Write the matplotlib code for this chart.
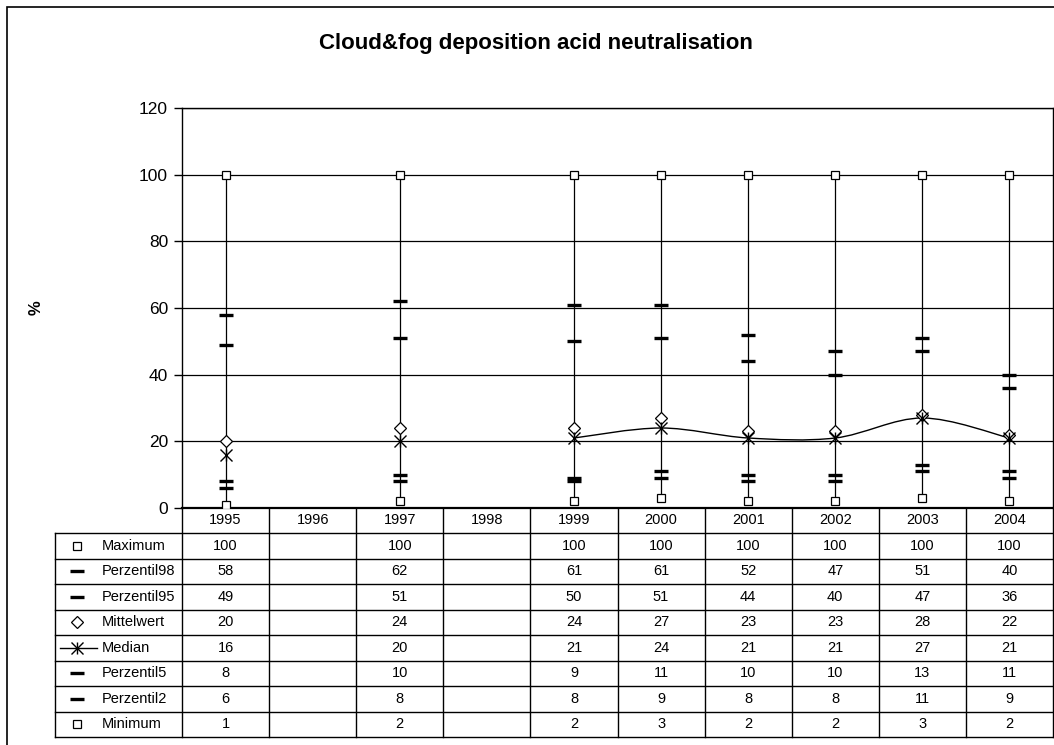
import numpy as np
import matplotlib.pyplot as plt
import matplotlib.transforms as mtransforms
from matplotlib.lines import Line2D
from matplotlib.path import Path
from matplotlib.patches import PathPatch, Rectangle

plt.rcParams['font.family'] = ['Liberation Sans', 'DejaVu Sans']

nan = np.nan
years = ['1995', '1996', '1997', '1998', '1999', '2000', '2001', '2002', '2003', '2004']
maximum = [100, nan, 100, nan, 100, 100, 100, 100, 100, 100]
p98 = [58, nan, 62, nan, 61, 61, 52, 47, 51, 40]
p95 = [49, nan, 51, nan, 50, 51, 44, 40, 47, 36]
mittel = [20, nan, 24, nan, 24, 27, 23, 23, 28, 22]
median = [16, nan, 20, nan, 21, 24, 21, 21, 27, 21]
p5 = [8, nan, 10, nan, 9, 11, 10, 10, 13, 11]
p2 = [6, nan, 8, nan, 8, 9, 8, 8, 11, 9]
minimum = [1, nan, 2, nan, 2, 3, 2, 2, 3, 2]

W, H = 1054, 745
fig = plt.figure(figsize=(W / 100, H / 100), dpi=100)

def fx(px):
    return px / W

def fy(py):
    return 1 - py / H

ax_left, ax_right, ax_top, ax_bot = 182, 1053, 108, 508
ax = fig.add_axes([fx(ax_left), fy(ax_bot), fx(ax_right - ax_left), (ax_bot - ax_top) / H])

x = np.arange(len(years))

# outer chart border (only left/top visible in the picture)
fig.add_artist(Rectangle((fx(7), fy(1000)), 2, fy(7) - fy(1000), transform=fig.transFigure,
                         fill=False, edgecolor='black', lw=1.2))

# high-low lines
for xi, lo, hi in zip(x, minimum, maximum):
    if not np.isnan(lo):
        ax.plot([xi, xi], [lo, hi], color='black', lw=0.9, zorder=2)

sq = dict(ls='none', marker='s', ms=6, mfc='white', mec='black', mew=0.9, zorder=4)
dash = dict(ls='none', marker='_', ms=10, mec='black', mew=2.4, zorder=4)
ax.plot(x, maximum, **sq)
ax.plot(x, minimum, **sq)
for s in (p98, p95, p5, p2):
    ax.plot(x, s, **dash)
ax.plot(x, mittel, ls='none', marker='D', ms=6, mfc='white', mec='black', mew=0.9, zorder=5)

# smoothed median line through consecutive runs
med = np.array(median, dtype=float)
runs, cur = [], []
for i, v in enumerate(med):
    if np.isnan(v):
        if cur:
            runs.append(cur)
        cur = []
    else:
        cur.append(i)
if cur:
    runs.append(cur)
for r in runs:
    if len(r) < 2:
        continue
    pts = [(float(i), med[i]) for i in r]
    verts = [pts[0]]
    codes = [Path.MOVETO]
    n = len(pts)
    for k in range(n - 1):
        p0 = np.array(pts[max(k - 1, 0)])
        p1 = np.array(pts[k])
        p2_ = np.array(pts[k + 1])
        p3 = np.array(pts[min(k + 2, n - 1)])
        c1 = p1 + (p2_ - p0) / 6
        c2 = p2_ - (p3 - p1) / 6
        verts += [tuple(c1), tuple(c2), tuple(p2_)]
        codes += [Path.CURVE4] * 3
    ax.add_patch(PathPatch(Path(verts, codes), fill=False, edgecolor='black', lw=1.0, zorder=3))
ax.plot(x, median, ls='none', marker='x', ms=9, mec='black', mew=1.0, zorder=5)
ax.plot(x, median, ls='none', marker='|', ms=9, mec='black', mew=1.0, zorder=5)

ax.set_xlim(-0.5, len(years) - 0.5)
ax.set_ylim(0, 120)
ax.set_yticks(range(0, 121, 20))
ax.yaxis.grid(True, color='black', lw=0.9)
ax.set_axisbelow(True)
ax.set_xticks([])
ax.tick_params(axis='y', direction='out', length=6, width=1, labelsize=12.5, pad=4)
for sp in ax.spines.values():
    sp.set_linewidth(1.0)
ax.spines['bottom'].set_linewidth(1.6)

fig.text(fx(536), fy(44), 'Cloud&fog deposition acid neutralisation', ha='center', va='center',
         fontsize=16, fontweight='bold')
fig.text(fx(36), fy(308), '%', rotation=90, ha='center', va='center', fontsize=12, fontweight='bold')

# data table below the axis
blend = mtransforms.blended_transform_factory(ax.transData, fig.transFigure)
header_top, header_bot = 508, 533
row_h = 25.5
rows = [('Maximum', maximum), ('Perzentil98', p98), ('Perzentil95', p95), ('Mittelwert', mittel),
        ('Median', median), ('Perzentil5', p5), ('Perzentil2', p2), ('Minimum', minimum)]
table_bot = header_bot + row_h * len(rows)

for i in range(len(years) + 1):
    fig.add_artist(Line2D([i - 0.5, i - 0.5], [fy(header_top), fy(table_bot)], transform=blend,
                          color='black', lw=1.0))
fig.add_artist(Line2D([fx(55), fx(55)], [fy(header_bot), fy(table_bot)], transform=fig.transFigure,
                      color='black', lw=1.0))
for r in range(len(rows) + 1):
    yy = fy(header_bot + r * row_h)
    fig.add_artist(Line2D([fx(55), fx(ax_right)], [yy, yy], transform=fig.transFigure, color='black', lw=1.0))

for i, yr in enumerate(years):
    fig.text(i, fy((header_top + header_bot) / 2), yr, transform=blend, ha='center', va='center', fontsize=10.5)

sym_x = fx(77)
for r, (name, vals) in enumerate(rows):
    yc = fy(header_bot + (r + 0.5) * row_h)
    fig.text(fx(102), yc, name, ha='left', va='center', fontsize=10.5)
    if name in ('Maximum', 'Minimum'):
        fig.add_artist(Line2D([sym_x], [yc], transform=fig.transFigure, ls='none', marker='s', ms=6,
                              mfc='white', mec='black', mew=0.9))
    elif name == 'Mittelwert':
        fig.add_artist(Line2D([sym_x], [yc], transform=fig.transFigure, ls='none', marker='D', ms=6,
                              mfc='white', mec='black', mew=0.9))
    elif name == 'Median':
        fig.add_artist(Line2D([fx(60), fx(97)], [yc, yc], transform=fig.transFigure, color='black', lw=1.0))
        fig.add_artist(Line2D([sym_x], [yc], transform=fig.transFigure, ls='none', marker='x', ms=8,
                              mec='black', mew=1.0))
        fig.add_artist(Line2D([sym_x], [yc], transform=fig.transFigure, ls='none', marker='|', ms=8,
                              mec='black', mew=1.0))
    else:
        fig.add_artist(Line2D([sym_x], [yc], transform=fig.transFigure, ls='none', marker='_', ms=10,
                              mec='black', mew=2.4))
    for i, v in enumerate(vals):
        if not np.isnan(v):
            fig.text(i, yc, f'{v:g}', transform=blend, ha='center', va='center', fontsize=10.5)

fig.savefig('out.png', dpi=100)
